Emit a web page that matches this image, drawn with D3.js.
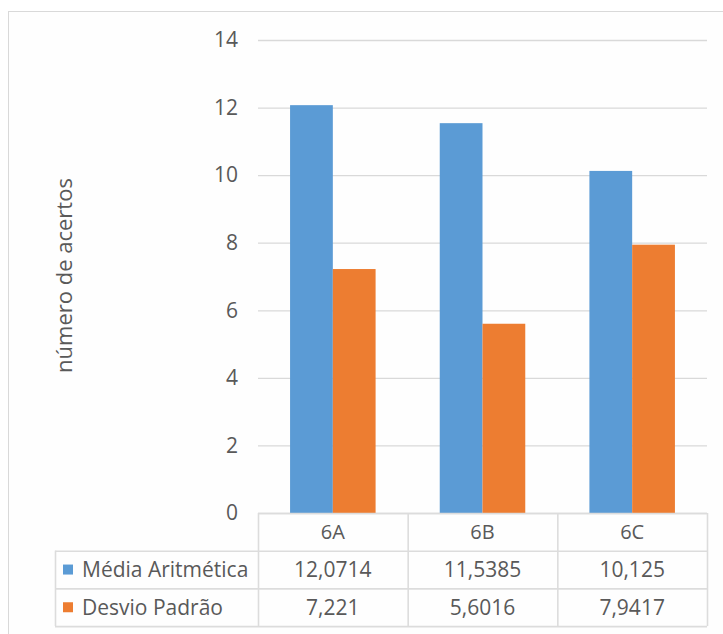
<!DOCTYPE html>
<html>
<head>
<meta charset="utf-8">
<script src="https://cdn.jsdelivr.net/npm/d3@7"></script>
<style>
  body { margin: 0; background: #fff; }
  svg text { font-family: "Open Sans", Lato, sans-serif; fill: #595959; }
</style>
</head>
<body>
<div id="chart"></div>
<script>
// data
var categories = ["6A", "6B", "6C"];
var seriesNames = ["Média Aritmética", "Desvio Padrão"];
var media = [12.0714, 11.5385, 10.125];
var desvio = [7.221, 5.6016, 7.9417];
var mediaLabels = ["12,0714", "11,5385", "10,125"];
var desvioLabels = ["7,221", "5,6016", "7,9417"];
var yTicks = [0, 2, 4, 6, 8, 10, 12, 14];
var colors = ["#5b9bd5", "#ed7d31"];

var width = 723, height = 634;
var plotLeft = 258, plotRight = 707, plotTop = 40, plotBottom = 513;
var rowH = 37.7;
var legendLeft = 55;

var svg = d3.select("#chart").append("svg")
  .attr("width", width)
  .attr("height", height);

// outer chart frame
svg.append("rect")
  .attr("x", 8.5).attr("y", 11.5)
  .attr("width", width).attr("height", height)
  .style("fill", "#fefefe")
  .style("stroke", "#d9d9d9");

var x = d3.scaleBand()
  .domain(categories)
  .range([plotLeft, plotRight]);

var y = d3.scaleLinear()
  .domain([0, 14])
  .range([plotBottom, plotTop]);

// gridlines
svg.selectAll(".grid")
  .data(yTicks)
  .enter().append("line")
  .attr("x1", plotLeft).attr("x2", plotRight)
  .attr("y1", d => y(d) + 0.5).attr("y2", d => y(d) + 0.5)
  .style("stroke", "#d9d9d9")
  .style("stroke-width", 1.3);

// y tick labels
svg.selectAll(".ytick")
  .data(yTicks)
  .enter().append("text")
  .attr("x", 238)
  .attr("y", d => y(d))
  .attr("dy", "0.35em")
  .attr("text-anchor", "end")
  .style("font-size", "21px")
  .text(d => d);

// y axis title
svg.append("text")
  .attr("transform", "translate(72," + ((plotTop + plotBottom) / 2 - 1) + ") rotate(-90)")
  .attr("text-anchor", "middle")
  .style("font-size", "22px")
  .text("número de acertos");

// bars
var inner = d3.scaleBand()
  .domain([0, 1])
  .range([0, x.bandwidth()])
  .paddingOuter(0.75)
  .paddingInner(0);

var series = [media, desvio];
series.forEach(function(vals, s) {
  svg.selectAll(".bar" + s)
    .data(vals)
    .enter().append("rect")
    .attr("x", (d, i) => x(categories[i]) + inner(s))
    .attr("width", inner.bandwidth())
    .attr("y", d => y(d))
    .attr("height", d => y(0) - y(d))
    .style("fill", colors[s]);
});

// data table
var tableLines = "#dcdcdc";

// horizontal lines
[0, 1, 2, 3].forEach(function(r) {
  svg.append("line")
    .attr("x1", r === 0 ? plotLeft : legendLeft)
    .attr("x2", plotRight)
    .attr("y1", plotBottom + r * rowH + 0.5)
    .attr("y2", plotBottom + r * rowH + 0.5)
    .style("stroke", tableLines).style("stroke-width", 1.6);
});

// vertical lines
var colEdges = [plotLeft].concat(categories.map(c => x(c) + x.bandwidth()));
colEdges.forEach(function(cx) {
  svg.append("line")
    .attr("x1", cx + 0.5).attr("x2", cx + 0.5)
    .attr("y1", plotBottom).attr("y2", plotBottom + 3 * rowH)
    .style("stroke", tableLines).style("stroke-width", 1.6);
});
svg.append("line")
  .attr("x1", legendLeft + 0.5).attr("x2", legendLeft + 0.5)
  .attr("y1", plotBottom + rowH).attr("y2", plotBottom + 3 * rowH)
  .style("stroke", tableLines).style("stroke-width", 1.6);

// header row
svg.selectAll(".cat")
  .data(categories)
  .enter().append("text")
  .attr("x", d => x(d) + x.bandwidth() / 2)
  .attr("y", plotBottom + rowH / 2)
  .attr("dy", "0.35em")
  .attr("text-anchor", "middle")
  .style("font-size", "20px")
  .text(d => d);

// series rows
[mediaLabels, desvioLabels].forEach(function(labels, s) {
  var cy = plotBottom + (s + 1) * rowH + rowH / 2;
  svg.append("rect")
    .attr("x", 63).attr("y", cy - 5)
    .attr("width", 10).attr("height", 10)
    .style("fill", colors[s]);
  svg.append("text")
    .attr("x", 82).attr("y", cy)
    .attr("dy", "0.35em")
    .style("font-size", "21px")
    .text(seriesNames[s]);
  svg.selectAll(".val" + s)
    .data(labels)
    .enter().append("text")
    .attr("x", (d, i) => x(categories[i]) + x.bandwidth() / 2)
    .attr("y", cy)
    .attr("dy", "0.35em")
    .attr("text-anchor", "middle")
    .style("font-size", "21px")
    .text(d => d);
});
</script>
</body>
</html>
